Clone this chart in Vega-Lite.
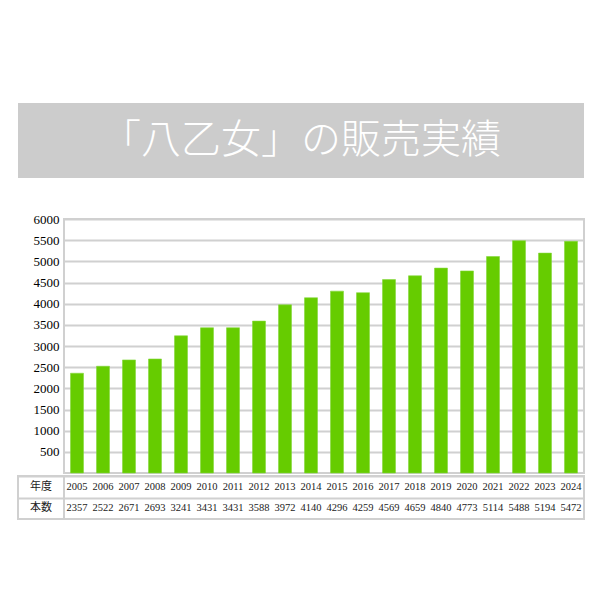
{
  "$schema": "https://vega.github.io/schema/vega-lite/v6.json",
  "padding": {"left": 17, "top": 103, "right": 0, "bottom": 0},
  "autosize": {"type": "pad"},
  "background": "white",
  "config": {
    "view": {"stroke": "#d0d0d0", "strokeWidth": 2},
    "font": "Liberation Serif",
    "concat": {"spacing": 0}
  },
  "datasets": {
    "sales": [
      {"year": 2005, "count": 2357},
      {"year": 2006, "count": 2522},
      {"year": 2007, "count": 2671},
      {"year": 2008, "count": 2693},
      {"year": 2009, "count": 3241},
      {"year": 2010, "count": 3431},
      {"year": 2011, "count": 3431},
      {"year": 2012, "count": 3588},
      {"year": 2013, "count": 3972},
      {"year": 2014, "count": 4140},
      {"year": 2015, "count": 4296},
      {"year": 2016, "count": 4259},
      {"year": 2017, "count": 4569},
      {"year": 2018, "count": 4659},
      {"year": 2019, "count": 4840},
      {"year": 2020, "count": 4773},
      {"year": 2021, "count": 5114},
      {"year": 2022, "count": 5488},
      {"year": 2023, "count": 5194},
      {"year": 2024, "count": 5472}
    ]
  },
  "spacing": 0,
  "vconcat": [
    {
      "width": 566,
      "height": 75,
      "view": {"fill": "#cccccc", "stroke": null},
      "data": {"values": [{"label": "「八乙女」の販売実績"}]},
      "mark": {"type": "text", "color": "white", "fontSize": 40, "font": "Noto Sans CJK JP", "fontWeight": 300},
      "encoding": {"text": {"field": "label"}}
    },
    {
      "width": 566,
      "height": 34,
      "view": {"stroke": null},
      "data": {"values": []},
      "mark": "text",
      "encoding": {}
    },
    {
      "spacing": 0,
      "bounds": "flush",
      "hconcat": [
        {
          "width": 46,
          "height": 254,
          "view": {"stroke": null},
          "data": {"values": []},
          "mark": "text",
          "encoding": {}
        },
        {
          "width": 520,
          "height": 254,
          "data": {"name": "sales"},
          "mark": {"type": "bar", "color": "#66cc00", "stroke": "#85d63d", "strokeWidth": 0.6},
          "encoding": {
            "x": {"field": "year", "type": "ordinal", "scale": {"paddingInner": 0.5, "paddingOuter": 0.25}, "axis": null},
            "y": {
              "field": "count", "type": "quantitative",
              "scale": {"domain": [0, 6000], "nice": false},
              "axis": {
                "values": [500, 1000, 1500, 2000, 2500, 3000, 3500, 4000, 4500, 5000, 5500, 6000],
                "format": "d",
                "title": null, "domain": false, "ticks": false, "labelPadding": 5,
                "labelFontSize": 13, "labelColor": "#000", "labelFont": "Liberation Serif",
                "gridColor": "#d0d0d0", "gridWidth": 2
              }
            }
          }
        }
      ]
    },
    {
      "spacing": 0,
      "bounds": "flush",
      "hconcat": [
        {
          "width": 46,
          "height": 43,
          "data": {"values": [{"h": "年度"}, {"h": "本数"}]},
          "mark": {"type": "text", "font": "Noto Sans CJK JP", "fontSize": 11, "color": "#222"},
          "encoding": {
            "y": {
              "field": "h", "type": "nominal",
              "scale": {"domain": ["年度", "本数"]},
              "axis": {"labels": false, "ticks": false, "domain": false, "title": null, "grid": true, "tickBand": "extent", "gridColor": "#d0d0d0", "gridWidth": 2}
            },
            "text": {"field": "h"}
          }
        },
        {
          "width": 520,
          "height": 43,
          "data": {"name": "sales"},
          "encoding": {
            "x": {"field": "year", "type": "ordinal", "scale": {"paddingInner": 0.5, "paddingOuter": 0.25}, "axis": null}
          },
          "layer": [
            {
              "mark": {"type": "text", "fontSize": 10.5, "color": "#222"},
              "encoding": {
                "y": {
                  "datum": "年度", "type": "nominal",
                  "scale": {"domain": ["年度", "本数"]},
                  "axis": {"labels": false, "ticks": false, "domain": false, "title": null, "grid": true, "tickBand": "extent", "gridColor": "#d0d0d0", "gridWidth": 2}
                },
                "text": {"field": "year", "type": "nominal"}
              }
            },
            {
              "mark": {"type": "text", "fontSize": 10.5, "color": "#222"},
              "encoding": {
                "y": {"datum": "本数", "type": "nominal"},
                "text": {"field": "count", "type": "nominal"}
              }
            }
          ]
        }
      ]
    }
  ]
}
